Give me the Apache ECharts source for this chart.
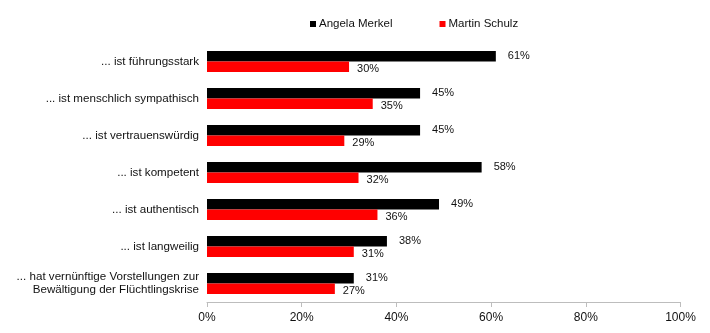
<!DOCTYPE html>
<html><head><meta charset="utf-8">
<script src="https://cdn.jsdelivr.net/npm/echarts@6/dist/echarts.min.js"></script>
<style>html,body{margin:0;padding:0;background:#fff}#c{width:710px;height:333px}</style>
</head><body><div id="c"></div>
<script>
var categories = ["... ist führungsstark","... ist menschlich sympathisch","... ist vertrauenswürdig","... ist kompetent","... ist authentisch","... ist langweilig","... hat vernünftige Vorstellungen zur\nBewältigung der Flüchtlingskrise"];
var merkel = [61,45,45,58,49,38,31];
var schulz = [30,35,29,32,36,31,27];
var seriesNames = ["Angela Merkel","Martin Schulz"];
var FONT = "Liberation Sans, Arial, Helvetica, sans-serif";
var chart = echarts.init(document.getElementById('c'));
chart.setOption({
  animation:false,
  textStyle:{fontFamily:FONT},
  legend:{left:305,top:13,itemWidth:6,itemHeight:6,itemGap:47,icon:'rect',
    textStyle:{fontFamily:FONT,fontSize:11.5,color:'#111',padding:[0,0,0,-2]},data:seriesNames},
  grid:{left:207,right:29.5,top:43,bottom:31,containLabel:false},
  xAxis:{type:'value',min:0,max:100,interval:20,
    axisLabel:{formatter:'{value}%',fontFamily:FONT,fontSize:12,color:'#111',margin:10},
    axisLine:{show:true,lineStyle:{color:'#bdbdbd'}},
    axisTick:{show:true,length:5,lineStyle:{color:'#bdbdbd'}},
    splitLine:{show:false}},
  yAxis:{type:'category',inverse:true,data:categories,
    axisLine:{show:false},axisTick:{show:false},
    axisLabel:{fontFamily:FONT,fontSize:11.6,color:'#111',margin:8,lineHeight:13,align:'right'}},
  series:[
    {name:seriesNames[0],type:'bar',data:merkel,barWidth:10.5,barGap:'0%',
     itemStyle:{color:'#000'},
     label:{show:true,position:'right',distance:12,formatter:'{c}%',fontFamily:FONT,fontSize:11,color:'#111'}},
    {name:seriesNames[1],type:'bar',data:schulz,barWidth:10.5,barGap:'0%',
     itemStyle:{color:'#ff0000'},
     label:{show:true,position:'right',distance:8,formatter:'{c}%',fontFamily:FONT,fontSize:11,color:'#111',offset:[0,2]}}
  ]
});
</script></body></html>
